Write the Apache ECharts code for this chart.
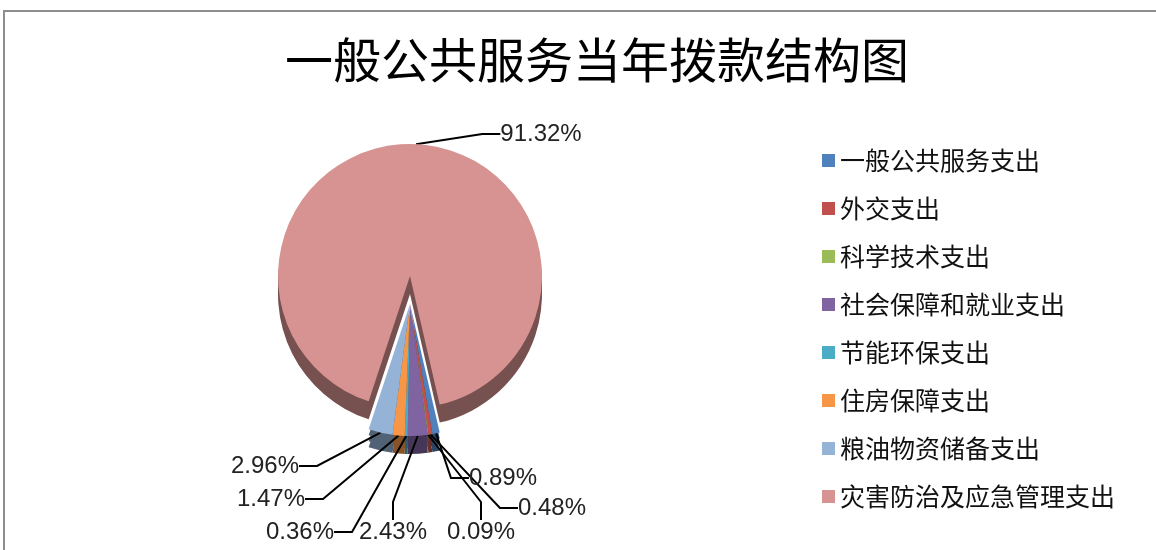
<!DOCTYPE html>
<html>
<head>
<meta charset="utf-8">
<title>一般公共服务当年拨款结构图</title>
<script src="https://cdn.jsdelivr.net/npm/echarts@6/dist/echarts.min.js"></script>
<style>
html, body { margin: 0; padding: 0; background: #fff; overflow: hidden; }
#frame { position: absolute; left: 3px; top: 10px; width: 1200px; height: 600px; border: 2px solid #8e8e8e; box-sizing: border-box; }
#chart { position: absolute; left: 0; top: 0; width: 1156px; height: 550px; }
</style>
</head>
<body>
<div id="frame"></div>
<div id="chart"></div>
<script>
// 数据
var names = ['一般公共服务支出', '外交支出', '科学技术支出', '社会保障和就业支出', '节能环保支出', '住房保障支出', '粮油物资储备支出', '灾害防治及应急管理支出'];
var percents = [0.89, 0.48, 0.09, 2.43, 0.36, 1.47, 2.96, 91.32];
var exploded = [true, true, true, true, true, true, true, false];

// 样式
var colors = ['#4F81BD', '#C0504D', '#9BBB59', '#8064A2', '#4BACC6', '#F79646', '#95B3D7', '#D69391'];
var labelPos = [[503, 478], [552, 508], [481, 532], [393, 532], [300, 532], [271, 499], [265, 466], [541, 134]];

var pieCenter = [410, 276];
var pieRadius = 132;
var explodeOffset = 28;

var darken = function(hex, f) {
	var n = parseInt(hex.slice(1), 16);
	var r = Math.round(((n >> 16) & 255) * f);
	var g = Math.round(((n >> 8) & 255) * f);
	var b = Math.round((n & 255) * f);
	return 'rgb(' + r + ',' + g + ',' + b + ')';
};

// part: true 画分离出的小扇区, false 画大扇区
var getPieData = function(part, factor, withLabel) {
	var rtn = [];
	names.forEach(function(name, i) {
		var visible = exploded[i] == part;
		var obj = {
			name: name,
			value: percents[i],
			itemStyle: { color: visible ? (factor ? darken(colors[i], factor) : colors[i]) : 'rgba(0,0,0,0)' }
		};
		if (!visible || !withLabel) {
			obj.label = { show: false };
			obj.labelLine = { show: false };
		}
		rtn.push(obj);
	});
	return rtn;
};

var makePie = function(part, depth, factor) {
	var top = factor == 0;
	return {
		type: 'pie',
		z: top ? 5 : 2,
		silent: !top,
		legendHoverLink: false,
		center: [pieCenter[0], pieCenter[1] + depth + (part ? explodeOffset : 0)],
		radius: pieRadius,
		startAngle: 283,
		clockwise: true,
		avoidLabelOverlap: false,
		emphasis: { disabled: true },
		label: {
			show: top,
			formatter: function(p) { return p.value.toFixed(2) + '%'; },
			fontFamily: 'Liberation Sans',
			fontSize: 24,
			color: '#222'
		},
		labelLine: {
			show: top,
			length: 12,
			length2: 18,
			lineStyle: { color: '#000', width: 2 }
		},
		labelLayout: function(params) {
			var p = labelPos[params.dataIndex];
			return { x: p[0], y: p[1], align: 'center', verticalAlign: 'middle' };
		},
		data: getPieData(part, factor, top)
	};
};

var series = [];
// 立体侧面
[18, 12, 6].forEach(function(d) {
	series.push(makePie(false, d, 0.55));
	series.push(makePie(true, d, 0.55));
});
// 顶面
series.push(makePie(false, 0, 0));
series.push(makePie(true, 0, 0));

var legendData = names.map(function(name, i) {
	return { name: name, itemStyle: { color: colors[i] } };
});

var option = {
	animation: false,
	title: {
		text: '一般公共服务当年拨款结构图',
		left: 280,
		top: 31,
		textStyle: {
			fontFamily: 'Noto Sans CJK SC',
			fontSize: 48,
			fontWeight: 'normal',
			color: '#000'
		}
	},
	legend: {
		orient: 'vertical',
		left: 817,
		top: 143,
		icon: 'rect',
		itemWidth: 13,
		itemHeight: 13,
		itemGap: 23,
		selectedMode: false,
		textStyle: {
			fontFamily: 'Noto Sans CJK SC',
			fontSize: 25,
			color: '#111'
		},
		data: legendData
	},
	series: series
};

var chart = echarts.init(document.getElementById('chart'));
chart.setOption(option, true);
</script>
</body>
</html>
